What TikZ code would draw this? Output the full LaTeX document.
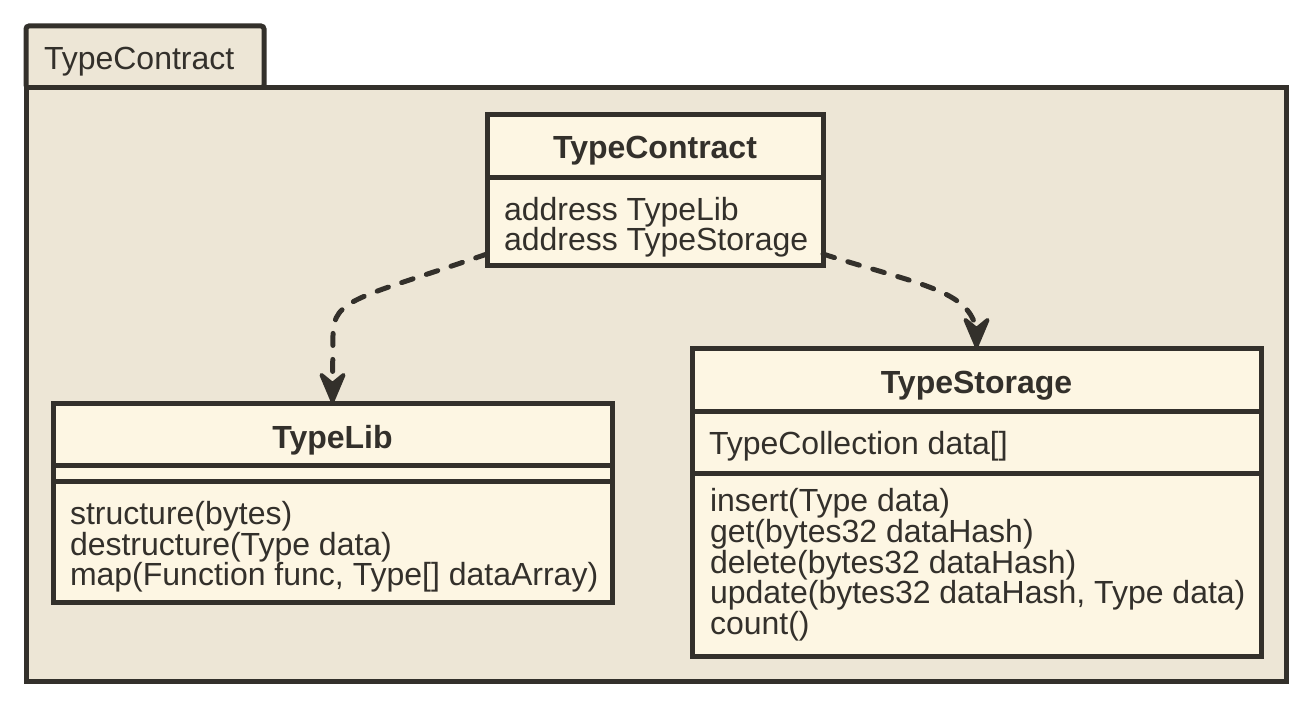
\documentclass[tikz,border=0pt]{standalone}
\usepackage{fontspec}
\setmainfont{Liberation Sans}
\definecolor{ink}{HTML}{33302B}
\definecolor{pkgfill}{HTML}{EDE6D6}
\definecolor{clsfill}{HTML}{FDF6E3}
\begin{document}
\begin{tikzpicture}[x=1pt,y=-1pt,
  every node/.style={inner sep=0pt,outer sep=0pt,text=ink,font=\fontsize{32}{32}\selectfont},
  pkgbox/.style={draw=ink,fill=pkgfill,line width=5pt,rectangle,anchor=north west},
  clsbox/.style={draw=ink,fill=clsfill,line width=5pt,rectangle,anchor=north west},
  sep/.style={draw=ink,line width=5pt},
  txt/.style={anchor=base west},
  ttl/.style={anchor=base,font=\fontsize{32}{32}\selectfont\bfseries},
  dep/.style={draw=ink,line width=5pt,dash pattern=on 12pt off 14pt,line cap=round},
  headshape/.style={draw=ink,fill=ink,line width=4pt,line join=round,solid}
]
\useasboundingbox (0,0) rectangle (1312,706);
% package
\node[pkgbox,rounded corners=3pt,minimum width=238pt,minimum height=62pt] (pkgtab) at (26,26) {};
\node[pkgbox,minimum width=1260pt,minimum height=593pt] (pkg) at (26,88) {};
\node[txt] (pkglabel) at (44,70) {TypeContract};

% TypeContract class
\node[clsbox,minimum width=336pt,minimum height=150pt] (tc) at (487,115) {};
\draw[sep] (tc.west |- 0,177) -- (tc.east |- 0,177);
\node[ttl] (tctitle) at (655,158) {TypeContract};
\node[txt] (tca1) at (504,220) {address TypeLib};
\node[txt] (tca2) at (504,250) {address TypeStorage};

% TypeLib class
\node[clsbox,minimum width=559pt,minimum height=199pt] (tl) at (53,403) {};
\draw[sep] (tl.west |- 0,465) -- (tl.east |- 0,465);
\draw[sep] (tl.west |- 0,481) -- (tl.east |- 0,481);
\node[ttl] (tltitle) at (332.5,448) {TypeLib};
\node[txt] (tlm1) at (70,524) {structure(bytes)};
\node[txt] (tlm2) at (70,555) {destructure(Type data)};
\node[txt] (tlm3) at (70,585) {map(Function func, Type[] dataArray)};

% TypeStorage class
\node[clsbox,minimum width=569pt,minimum height=308pt] (ts) at (692,348) {};
\draw[sep] (ts.west |- 0,411) -- (ts.east |- 0,411);
\draw[sep] (ts.west |- 0,473) -- (ts.east |- 0,473);
\node[ttl] (tstitle) at (976.5,393) {TypeStorage};
\node[txt] (tsa1) at (709,454) {TypeCollection data[]};
\node[txt] (tsm1) at (710,511) {insert(Type data)};
\node[txt] (tsm2) at (710,542) {get(bytes32 dataHash)};
\node[txt] (tsm3) at (710,573) {delete(bytes32 dataHash)};
\node[txt] (tsm4) at (710,603) {update(bytes32 dataHash, Type data)};
\node[txt] (tsm5) at (710,634) {count()};

% dependencies
\coordinate (h1) at (332.5,386);
\coordinate (h2) at (976.5,331);
\draw[dep] (tc.west |- 0,254) .. controls (360,298) and (333,298) .. (333,335) -- (h1);
\draw[headshape] (tl.north) ++(0,-2) -- ++(-11,-26) -- ++(11,9) -- ++(11,-9) -- cycle;
\draw[dep] (tc.east |- 0,254) .. controls (920,285) and (970,290) .. (h2);
\draw[headshape] (ts.north) ++(0,-2) -- ++(-11,-26) -- ++(11,9) -- ++(11,-9) -- cycle;
\end{tikzpicture}
\end{document}
